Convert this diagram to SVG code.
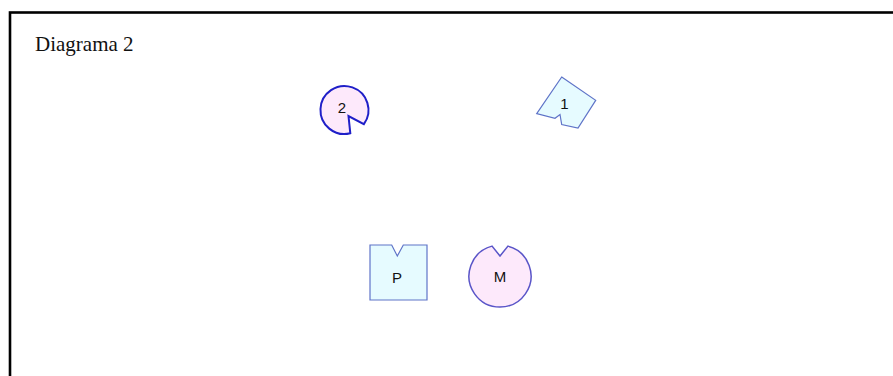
<svg xmlns="http://www.w3.org/2000/svg" width="893" height="376" viewBox="0 0 893 376">
<style>
.frame{fill:#ffffff;stroke:#000000;stroke-width:2.6}
.title{font-family:"Liberation Serif","Times New Roman",serif;font-size:21px;fill:#111111}
.lbl{font-family:"Liberation Sans",Arial,sans-serif;font-size:15px;fill:#111111;text-anchor:middle}
.circ{fill:#fde9fb;stroke:#1f1fc8;stroke-width:2}
.circ2{fill:#fde9fb;stroke:#5a55c8;stroke-width:1.5}
.sq{fill:#e6fbff;stroke:#5f74c8;stroke-width:1.2}
</style>
<rect width="893" height="376" fill="#ffffff"/>
<rect class="frame" x="10" y="12.5" width="900" height="400"/>
<text class="title" x="35" y="51">Diagrama 2</text>
<g id="connectors"></g>
<g id="node-2">
<path class="circ" d="M 350.3,133.3 A 24 24 0 1 1 363.9,124.1 L 348.5,116 Z"/>
<text class="lbl" x="342" y="112.5">2</text>
</g>
<g id="node-1">
<polygon class="sq" points="561.7,77 595.7,100.3 578,128 561.7,124.5 560,114.5 555,118.3 536.7,113.7"/>
<text class="lbl" x="564.5" y="109.3">1</text>
</g>
<g id="node-P">
<polygon class="sq" points="370,245 391.7,245 397.3,256 403.3,245 427,245 427,300 370,300"/>
<text class="lbl" x="397" y="283.3">P</text>
</g>
<g id="node-M">
<path class="circ2" d="M 508,246.1 A 31 31 0 1 1 492,246.1 L 500,256 Z"/>
<text class="lbl" x="500" y="281.7">M</text>
</g>
</svg>
